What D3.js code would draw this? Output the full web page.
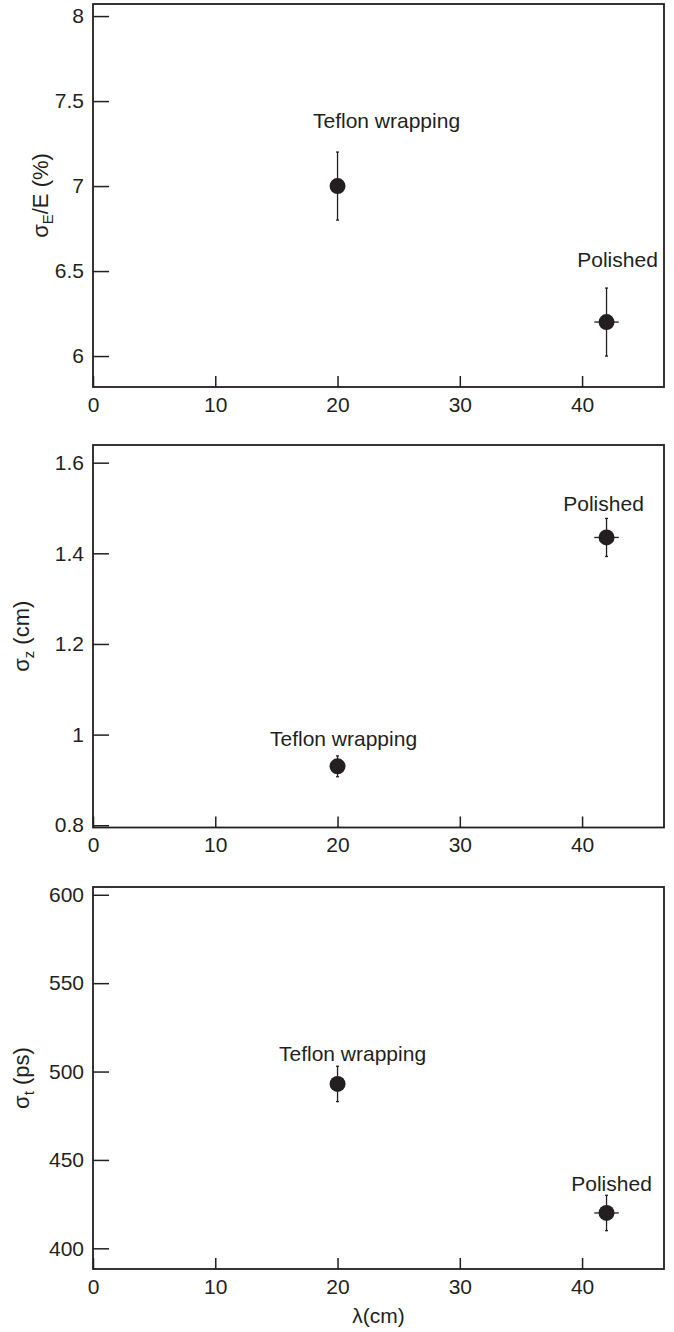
<!DOCTYPE html>
<html>
<head lang="en">
  <meta charset="UTF-8">
  <title>Resolution vs attenuation length</title>
</head>
<style>
  body { margin: 0; background: #fff; }
  #chart text { font-family: "Liberation Sans", Arial, Helvetica, sans-serif; fill: #231f20; }
  #chart .tick line { stroke: #231f20; stroke-width: 1.5; }
  #chart .frame { fill: none; stroke: #231f20; stroke-width: 1.8; }
  #chart .err { stroke: #231f20; stroke-width: 1.3; }
  #chart .dot { fill: #231f20; }
</style>
<body>

<svg id="chart"></svg>

<script src="https://cdn.jsdelivr.net/npm/d3@7"></script>
<script>
  // lambda (cm) for the two samples
  var labels = ['Teflon wrapping', 'Polished'];
  var lambda = [20, 42];
  var lambdaErr = [0, 1];

  var sigmaE = [7.0, 6.2];
  var sigmaEErr = [0.2, 0.2];
  var sigmaZ = [0.93, 1.435];
  var sigmaZErr = [0.023, 0.042];
  var sigmaT = [493, 420];
  var sigmaTErr = [10, 10];

  var xTicks = [0, 10, 20, 30, 40];
  var eTicks = [6, 6.5, 7, 7.5, 8];
  var zTicks = [0.8, 1, 1.2, 1.4, 1.6];
  var tTicks = [400, 450, 500, 550, 600];

  var width = 674, height = 1332;
  var left = 93, right = 664;
  var fs = '21px';

  var svg = d3.select('#chart').attr('width', width).attr('height', height);

  var x = d3.scaleLinear().domain([0, 46.7]).range([left, right]);

  var panels = [
    { y: sigmaE, err: sigmaEErr, ticks: eTicks, domain: [5.818, 8.071], top: 4, bottom: 387,
      title: ['σ', 'E', '/E (%)'], titleX: 48, offsets: [[49, -58], [11, -55]] },
    { y: sigmaZ, err: sigmaZErr, ticks: zTicks, domain: [0.795, 1.639], top: 445, bottom: 827.5,
      title: ['σ', 'z', ' (cm)'], titleX: 29, offsets: [[6, -20], [-3, -26]] },
    { y: sigmaT, err: sigmaTErr, ticks: tTicks, domain: [388.3, 604.4], top: 887, bottom: 1269,
      title: ['σ', 't', ' (ps)'], titleX: 29, offsets: [[15, -23], [5, -22]] }
  ];

  panels.forEach(drawPanel);

  svg.append('text')
    .attr('x', (left + right) / 2).attr('y', 1323)
    .attr('text-anchor', 'middle').style('font-size', fs)
    .text('λ(cm)');

  function drawPanel(p) {
    var y = d3.scaleLinear().domain(p.domain).range([p.bottom, p.top]);
    var g = svg.append('g');

    g.append('g')
      .attr('transform', 'translate(' + left + ',0)')
      .call(d3.axisLeft(y).tickValues(p.ticks).tickSize(-16).tickPadding(9).tickFormat(d3.format('~g')))
      .call(styleAxis);

    g.append('g')
      .attr('transform', 'translate(0,' + p.bottom + ')')
      .call(d3.axisBottom(x).tickValues(xTicks).tickSize(-11).tickPadding(10).tickFormat(d3.format('d')))
      .call(styleAxis);

    g.append('rect').attr('class', 'frame')
      .attr('x', left).attr('y', p.top)
      .attr('width', right - left).attr('height', p.bottom - p.top);

    var title = g.append('text')
      .attr('transform', 'translate(' + p.titleX + ',' + (p.top + p.bottom) / 2 + ') rotate(-90)')
      .attr('text-anchor', 'middle').style('font-size', '22px');
    title.append('tspan').text(p.title[0]);
    title.append('tspan').attr('dy', 5).style('font-size', '15px').text(p.title[1]);
    title.append('tspan').attr('dy', -5).text(p.title[2]);

    var pts = g.selectAll('.pt').data(lambda).enter().append('g').attr('class', 'pt');

    // vertical error bars with small caps
    pts.append('line').attr('class', 'err')
      .attr('x1', function (d) { return x(d); }).attr('x2', function (d) { return x(d); })
      .attr('y1', function (d, i) { return y(p.y[i] - p.err[i]); })
      .attr('y2', function (d, i) { return y(p.y[i] + p.err[i]); });
    [-1, 1].forEach(function (s) {
      pts.append('line').attr('class', 'err')
        .attr('x1', function (d) { return x(d) - 1.5; }).attr('x2', function (d) { return x(d) + 1.5; })
        .attr('y1', function (d, i) { return y(p.y[i] + s * p.err[i]); })
        .attr('y2', function (d, i) { return y(p.y[i] + s * p.err[i]); });
    });

    // horizontal error bars where there is an x error
    var withX = pts.filter(function (d, i) { return lambdaErr[i] > 0; });
    withX.append('line').attr('class', 'err')
      .attr('x1', function (d) { return x(d - lambdaErr[lambda.indexOf(d)]); })
      .attr('x2', function (d) { return x(d + lambdaErr[lambda.indexOf(d)]); })
      .attr('y1', function (d) { var i = lambda.indexOf(d); return y(p.y[i]); })
      .attr('y2', function (d) { var i = lambda.indexOf(d); return y(p.y[i]); });

    pts.append('circle').attr('class', 'dot')
      .attr('cx', function (d) { return x(d); })
      .attr('cy', function (d, i) { return y(p.y[i]); })
      .attr('r', 8);

    pts.append('text')
      .attr('x', function (d, i) { return x(d) + p.offsets[i][0]; })
      .attr('y', function (d, i) { return y(p.y[i]) + p.offsets[i][1]; })
      .attr('text-anchor', 'middle').style('font-size', fs)
      .text(function (d, i) { return labels[i]; });
  }

  function styleAxis(sel) {
    sel.select('.domain').remove();
    sel.selectAll('text').style('font-size', fs).attr('fill', '#231f20');
  }
</script>
</body>
</html>
